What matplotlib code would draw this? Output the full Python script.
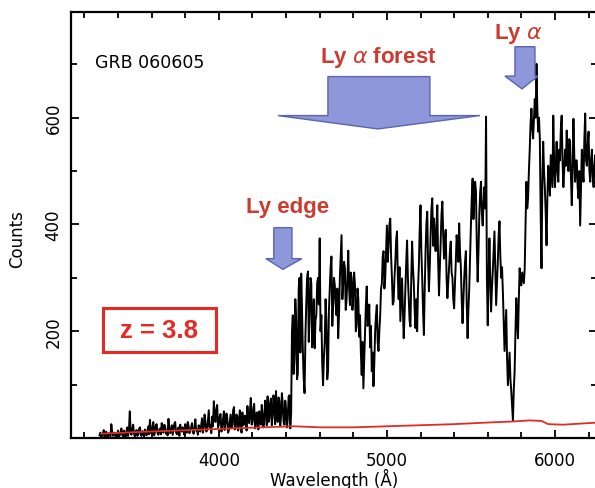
import numpy as np
import matplotlib
matplotlib.use('Agg')
import matplotlib.pyplot as plt
from matplotlib.patches import Polygon, Rectangle

plt.rcParams['font.family'] = ['DejaVu Sans']
plt.rcParams['mathtext.fontset'] = 'dejavusans'

# spectrum of GRB 060605, counts per 5 A bin starting at 3290 A (one row = 100 A)
wave_start = 3290
wave_step = 5
counts = [
    5, 10, 0, 4, 8, 15, 2, 6, 12, 1, 3, 9, 6, 3, 26, 12, 4, 7, 10, 3,
    2, 8, 14, 3, 5, 11, 18, 6, 3, 14, 9, 2, 12, 20, 4, 16, 50, 10, 6, 18,
    25, 8, 3, 12, 15, 4, 8, 17, 20, 6, 4, 13, 11, 3, 16, 9, 5, 14, 22, 7,
    34, 14, 8, 20, 30, 5, 12, 24, 26, 9, 6, 15, 18, 7, 28, 13, 10, 25, 22, 8,
    14, 5, 36, 18, 9, 16, 24, 6, 16, 27, 30, 11, 7, 15, 20, 4, 25, 14, 12, 20,
    18, 6, 26, 13, 10, 30, 22, 9, 14, 20, 28, 12, 8, 19, 35, 14, 16, 6, 24, 15,
    12, 25, 37, 10, 20, 44, 30, 12, 14, 33, 52, 20, 24, 9, 40, 22, 69, 35, 30, 55,
    62, 20, 25, 40, 45, 12, 18, 36, 50, 15, 28, 46, 38, 10, 15, 30, 44, 19, 24, 52,
    58, 16, 20, 44, 40, 14, 30, 52, 22, 10, 48, 24, 26, 42, 35, 14, 60, 30, 28, 50,
    75, 25, 30, 56, 64, 18, 22, 48, 40, 16, 50, 30, 25, 62, 45, 20, 32, 70, 55, 24,
    78, 30, 35, 66, 74, 24, 42, 80, 60, 26, 88, 45, 30, 76, 70, 22, 40, 84, 65, 30,
    25, 70, 55, 20, 35, 78, 80, 18, 45, 200, 230, 120, 150, 260, 220, 110, 120, 280, 300, 160,
    308, 240, 160, 110, 84, 190, 250, 300, 312, 180, 230, 300, 290, 170, 200, 260, 168, 220, 230, 290,
    300, 250, 374, 200, 230, 140, 99, 150, 180, 260, 219, 110, 130, 240, 280, 320, 340, 210, 250, 300,
    286, 250, 230, 280, 187, 230, 300, 340, 380, 260, 290, 330, 318, 240, 260, 300, 351, 280, 249, 310,
    300, 240, 270, 310, 286, 200, 211, 280, 260, 190, 230, 160, 118, 180, 93, 150, 200, 250, 284, 210,
    220, 250, 170, 210, 125, 160, 97, 140, 200, 230, 249, 180, 163, 200, 230, 280, 290, 340, 350, 280,
    300, 350, 398, 330, 360, 400, 411, 340, 300, 250, 256, 300, 330, 370, 387, 300, 260, 320, 219, 260,
    299, 240, 187, 230, 280, 330, 370, 300, 260, 220, 209, 300, 368, 320, 290, 240, 206, 260, 200, 280,
    320, 390, 436, 350, 300, 240, 193, 280, 350, 400, 424, 330, 275, 320, 380, 430, 449, 360, 411, 370,
    350, 400, 436, 330, 267, 320, 380, 420, 443, 380, 336, 370, 390, 300, 262, 290, 320, 350, 368, 310,
    300, 260, 243, 290, 330, 380, 360, 330, 402, 350, 320, 260, 215, 260, 300, 330, 350, 250, 187, 240,
    280, 340, 400, 450, 486, 410, 449, 480, 462, 360, 293, 350, 420, 460, 480, 420, 398, 440, 470, 430,
    602, 300, 211, 300, 374, 300, 237, 280, 312, 350, 387, 320, 249, 290, 330, 380, 406, 340, 300, 320,
    275, 220, 163, 200, 240, 150, 99, 130, 160, 110, 88, 60, 32, 90, 125, 200, 262, 220, 187, 260,
    318, 290, 286, 310, 300, 290, 318, 400, 480, 430, 449, 500, 542, 590, 617, 580, 561, 600, 635, 600,
    701, 620, 574, 600, 561, 420, 318, 480, 555, 500, 467, 420, 361, 450, 510, 480, 454, 530, 500, 470,
    604, 520, 470, 510, 555, 500, 480, 540, 520, 580, 604, 520, 470, 500, 540, 510, 576, 530, 500, 560,
    555, 490, 436, 500, 598, 530, 480, 520, 520, 470, 449, 500, 398, 470, 540, 500, 480, 560, 608, 520,
    510, 550, 574, 500, 480, 520, 540, 490, 470, 510, 530, 480, 500,
]
wave = wave_start + wave_step * np.arange(len(counts))

# error spectrum (red)
err_wave = [3300, 3500, 3750, 4000, 4250, 4450, 4600, 4800, 5000, 5200,
            5400, 5600, 5750, 5850, 5920, 5960, 6050, 6150, 6260]
err_counts = [8, 11, 14, 17, 20, 22, 20, 20, 22, 24,
              26, 29, 31, 33, 32, 26, 25, 27, 29]

red = '#e42a24'
label_red = '#cc3b2f'
arrow_fc = '#8e97d9'
arrow_ec = '#5a64b0'

fig = plt.figure(figsize=(5.95, 4.89), dpi=100)
ax = fig.add_axes([0.1193, 0.1022, 0.884, 0.8712])

ax.plot(wave, counts, color='black', lw=1.4)
ax.plot(err_wave, err_counts, color=red, lw=1.3)

ax.set_xlim(3120, 6250)
ax.set_ylim(0, 798)
ax.set_xticks([4000, 5000, 6000])
ax.set_xticks(np.arange(3200, 6300, 200), minor=True)
ax.set_yticks([200, 400, 600])
ax.set_yticks([100, 300, 500, 700], minor=True)
ax.tick_params(which='both', direction='in', top=True, right=True, width=1.3,
               labelsize=12)
ax.tick_params(which='major', length=6)
ax.tick_params(which='minor', length=4)
ax.tick_params(axis='x', pad=9)
ax.tick_params(axis='y', pad=6)
for lab in ax.get_yticklabels():
    lab.set_rotation(90)
    lab.set_va('center')
for sp in ax.spines.values():
    sp.set_linewidth(1.6)

ax.set_xlabel('Wavelength (Å)', fontsize=12)
ax.xaxis.set_label_coords(0.5, -0.071)
ax.set_ylabel('Counts', fontsize=12)
ax.yaxis.set_label_coords(-0.085, 0.47)

# arrows
forest = [(4649, 677), (5256, 677), (5256, 604), (5554, 604), (4946, 579),
          (4351, 604), (4649, 604)]
lya = [(5762, 733), (5881, 733), (5881, 678), (5899, 678), (5804, 654),
       (5702, 678), (5762, 678)]
edge = [(4327, 394), (4435, 394), (4435, 336), (4494, 336), (4381, 316),
        (4280, 336), (4327, 336)]
for pts in (forest, lya, edge):
    ax.add_patch(Polygon(pts, closed=True, fc=arrow_fc, ec=arrow_ec, lw=1.0,
                         zorder=3))

bold = dict(color=label_red, fontsize=16, fontweight='bold',
            family=['Liberation Sans', 'DejaVu Sans'], ha='center', va='center')
ax.text(4946, 714, r'Ly $\alpha$ forest', **bold)
ax.text(5780, 758, r'Ly $\alpha$', **bold)
ax.text(4411, 434, 'Ly edge', **bold)

ax.text(3262, 705, 'GRB 060605', fontsize=12.5, ha='left', va='center')

ax.add_patch(Rectangle((0.0608, 0.2019), 0.2148, 0.1033, transform=ax.transAxes,
                       fill=False, ec=red, lw=2.2, zorder=4))
ax.text(0.1673, 0.2535, 'z = 3.8', transform=ax.transAxes, color=red,
        fontsize=18.5, fontweight='bold', family=['Liberation Sans', 'DejaVu Sans'],
        ha='center', va='center')

fig.savefig('out.png', dpi=100)
